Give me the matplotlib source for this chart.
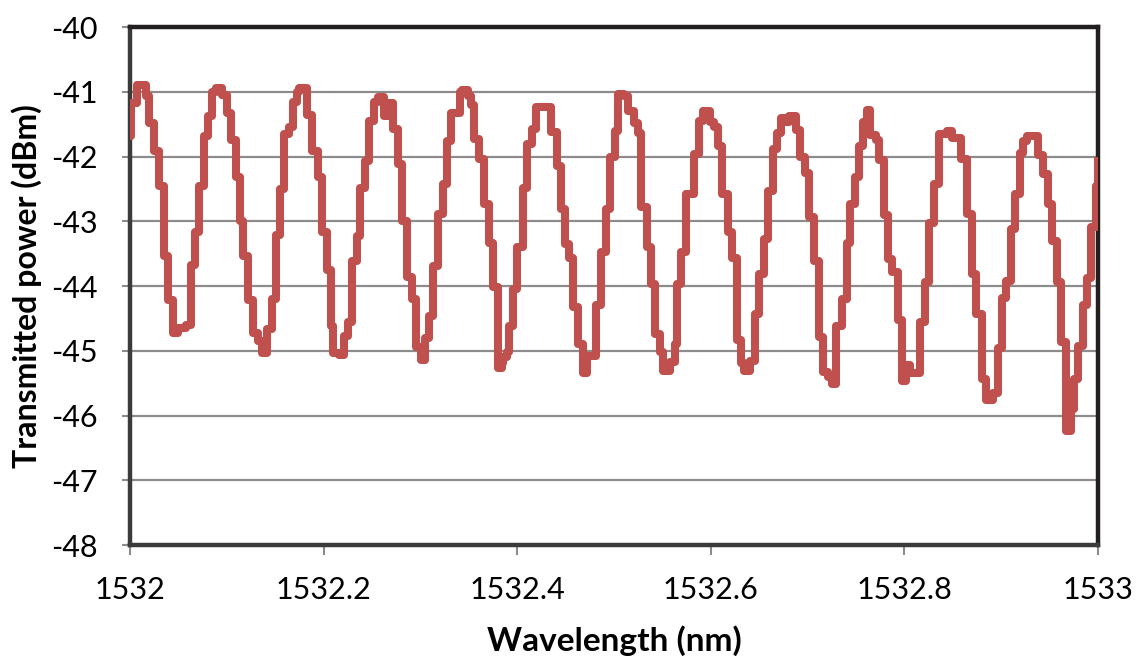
import numpy as np
import matplotlib.pyplot as plt

# transmission spectrum, step corners (wavelength nm, power dBm)
wl = np.array([
    1532.0000, 1532.0010, 1532.0069, 1532.0162, 1532.0196, 1532.0248, 1532.0300,
    1532.0351, 1532.0389, 1532.0448, 1532.0499, 1532.0575, 1532.0627, 1532.0672,
    1532.0713, 1532.0765, 1532.0809, 1532.0851, 1532.0885, 1532.0947, 1532.0999,
    1532.1043, 1532.1095, 1532.1137, 1532.1171, 1532.1223, 1532.1275,
    1532.1326, 1532.1360, 1532.1419, 1532.1464, 1532.1508, 1532.1550, 1532.1594,
    1532.1646, 1532.1681, 1532.1722, 1532.1749, 1532.1825, 1532.1877, 1532.1946,
    1532.1980, 1532.2032, 1532.2077, 1532.2101, 1532.2163, 1532.2214, 1532.2256,
    1532.2290, 1532.2342, 1532.2376, 1532.2428, 1532.2473, 1532.2521, 1532.2566,
    1532.2627, 1532.2669, 1532.2720, 1532.2765, 1532.2807, 1532.2865, 1532.2910,
    1532.2955, 1532.3006, 1532.3048, 1532.3092, 1532.3134, 1532.3178, 1532.3230,
    1532.3272, 1532.3316, 1532.3409, 1532.3433, 1532.3488, 1532.3519, 1532.3557,
    1532.3609, 1532.3661, 1532.3712, 1532.3754, 1532.3799, 1532.3847,
    1532.3850, 1532.3898, 1532.3915, 1532.3953, 1532.4001, 1532.4056, 1532.4105,
    1532.4150, 1532.4194, 1532.4349, 1532.4415, 1532.4449, 1532.4494, 1532.4539,
    1532.4573, 1532.4625, 1532.4683, 1532.4725, 1532.4814, 1532.4866, 1532.4918,
    1532.4959, 1532.5010, 1532.5045, 1532.5103, 1532.5148,
    1532.5210, 1532.5244, 1532.5279, 1532.5337, 1532.5382, 1532.5424, 1532.5475,
    1532.5510, 1532.5579, 1532.5630, 1532.5647, 1532.5692, 1532.5740, 1532.5830,
    1532.5878, 1532.5923, 1532.5992, 1532.6037, 1532.6071, 1532.6119, 1532.6174,
    1532.6223, 1532.6267, 1532.6312, 1532.6347, 1532.6405,
    1532.6457, 1532.6501, 1532.6550, 1532.6594, 1532.6639, 1532.6681, 1532.6725,
    1532.6777, 1532.6811, 1532.6880, 1532.6922, 1532.6973, 1532.7018, 1532.7066,
    1532.7121, 1532.7156, 1532.7214, 1532.7249, 1532.7294, 1532.7352, 1532.7404,
    1532.7438, 1532.7490, 1532.7535, 1532.7569, 1532.7617, 1532.7645, 1532.7707,
    1532.7738, 1532.7793, 1532.7834, 1532.7875, 1532.7930, 1532.7972, 1532.8013,
    1532.8058, 1532.8161, 1532.8213, 1532.8254, 1532.8309, 1532.8358, 1532.8437,
    1532.8495, 1532.8585, 1532.8643, 1532.8695, 1532.8736, 1532.8798, 1532.8840,
    1532.8919, 1532.8964, 1532.9005,
    1532.9050, 1532.9098, 1532.9143, 1532.9194, 1532.9229, 1532.9270, 1532.9384,
    1532.9435, 1532.9487, 1532.9521, 1532.9573, 1532.9614, 1532.9670, 1532.9718,
    1532.9752, 1532.9797, 1532.9842, 1532.9883, 1532.9928, 1532.9979, 1533.0000,
])
power = np.array([
    -41.69, -41.17, -40.89, -41.06, -41.48, -41.91, -42.46,
    -43.53, -44.21, -44.73, -44.65, -44.60, -43.67, -43.17,
    -42.45, -41.68, -41.37, -41.00, -40.94, -41.05, -41.33,
    -41.74, -42.31, -43.00, -43.54, -44.21, -44.73,
    -44.85, -45.03, -44.66, -44.20, -43.21, -42.50, -41.65,
    -41.54, -41.16, -41.00, -40.94, -41.36, -41.91, -42.32,
    -43.17, -43.76, -44.62, -45.03, -45.06, -44.77, -44.56,
    -43.61, -43.22, -42.48, -42.07, -41.45, -41.16, -41.08,
    -41.37, -41.17, -41.58, -42.12, -42.99, -43.86, -44.20,
    -44.94, -45.14, -44.80, -44.46, -43.69, -42.89, -42.43,
    -41.76, -41.33, -41.01, -40.98, -41.06, -41.20, -41.73,
    -42.04, -42.73, -43.33, -44.02, -45.26, -45.19,
    -45.09, -45.02, -44.62, -44.05, -43.40, -42.48, -41.81,
    -41.58, -41.23, -41.62, -42.14, -42.81, -43.35, -43.56,
    -44.33, -44.89, -45.34, -45.08, -44.30, -43.48, -42.81,
    -42.01, -41.60, -41.03, -41.07, -41.30,
    -41.48, -41.63, -42.78, -43.40, -43.97, -44.74, -45.02,
    -45.31, -45.18, -44.90, -43.97, -43.48, -42.58, -41.96,
    -41.45, -41.30, -41.46, -41.54, -41.83, -42.58, -43.17,
    -43.56, -44.84, -45.19, -45.32, -45.16,
    -44.43, -43.82, -43.27, -42.53, -41.89, -41.63, -41.41,
    -41.47, -41.37, -41.59, -42.01, -42.25, -42.94, -43.61,
    -44.79, -45.33, -45.40, -45.52, -44.61, -44.20, -43.33,
    -42.73, -42.32, -41.83, -41.47, -41.28, -41.66, -41.74,
    -42.06, -42.90, -43.58, -43.79, -44.53, -45.47, -45.22,
    -45.35, -44.56, -43.94, -43.02, -42.43, -41.65, -41.60,
    -41.72, -42.04, -42.89, -43.82, -44.43, -45.44, -45.76,
    -45.66, -44.95, -44.18,
    -43.92, -43.12, -42.58, -41.94, -41.76, -41.69, -41.97,
    -42.27, -42.73, -43.30, -43.94, -44.87, -46.24, -45.90,
    -45.44, -44.92, -44.30, -43.87, -43.09, -42.45, -42.00,
])

xticks = [1532, 1532.2, 1532.4, 1532.6, 1532.8, 1533]
xticklabels = ["1532", "1532.2", "1532.4", "1532.6", "1532.8", "1533"]
yticks = [-48, -47, -46, -45, -44, -43, -42, -41, -40]

plt.rcParams['font.family'] = ['Lato', 'DejaVu Sans']
plt.rcParams['axes.unicode_minus'] = False

fig = plt.figure(figsize=(11.37, 6.56), dpi=100)
ax = fig.add_axes([0.1143, 0.1692, 0.8514, 0.7896])

ax.plot(wl, power, color="#C0504D", lw=5.8, drawstyle="steps-post",
        solid_joinstyle="round", solid_capstyle="butt", zorder=3)

ax.set_xlim(1532, 1533)
ax.set_ylim(-48, -40)
ax.set_xticks(xticks)
ax.set_xticklabels(xticklabels)
ax.set_yticks(yticks)
ax.yaxis.grid(True, color="#8c8c8c", lw=1.6)
ax.set_axisbelow(True)

ax.tick_params(axis="both", direction="out", color="#8c8c8c", width=1.5,
               labelsize=22, labelcolor="black")
ax.tick_params(axis="x", length=7, pad=15)
ax.tick_params(axis="y", length=6, pad=17)

for side in ["top", "right"]:
    ax.spines[side].set_color("#231f20")
    ax.spines[side].set_linewidth(3.2)
for side in ["left", "bottom"]:
    ax.spines[side].set_color("#3b3b3b")
    ax.spines[side].set_linewidth(3.2)

ax.set_xlabel("Wavelength (nm)", fontsize=24, fontweight="bold")
ax.set_ylabel("Transmitted power (dBm)", fontsize=23, fontweight="bold")
ax.xaxis.set_label_coords(0.5, -0.155)
ax.yaxis.set_label_coords(-0.091, 0.5)

fig.savefig("out.png", dpi=100)
